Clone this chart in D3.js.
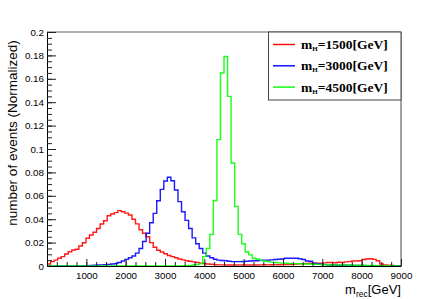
<!DOCTYPE html>
<html>
<head>
<meta charset="utf-8">
<script src="https://cdn.jsdelivr.net/npm/d3@7"></script>
<style>
  body { margin: 0; background: #fff; }
  svg { display: block; }
</style>
</head>
<body>
<svg id="chart" width="448" height="299"></svg>
<script>
// histogram binning: 100 bins of 90 GeV from 0 to 9000
const binWidth = 90;
const nBins = 100;

// normalized bin contents
const red = [
  0.0017, 0.0037, 0.0050, 0.0066, 0.0080, 0.0103, 0.0122, 0.0137, 0.0143, 0.0171,
  0.0199, 0.0237, 0.0265, 0.0288, 0.0320, 0.0359, 0.0387, 0.0430, 0.0444, 0.0456,
  0.0473, 0.0464, 0.0452, 0.0436, 0.0400, 0.0360, 0.0310, 0.0280, 0.0250, 0.0200,
  0.0160, 0.0135, 0.0120, 0.0105, 0.0090, 0.0080, 0.0070, 0.0060, 0.0052, 0.0045,
  0.0040, 0.0035, 0.0030, 0.0025, 0.0020, 0.0017, 0.0015, 0.0012, 0.0010, 0.0010,
  0.0009, 0.0008, 0.0008, 0.0009, 0.0010, 0.0009, 0.0008, 0.0009, 0.0010, 0.0009,
  0.0010, 0.0011, 0.0010, 0.0011, 0.0012, 0.0011, 0.0012, 0.0012, 0.0013, 0.0015,
  0.0017, 0.0018, 0.0020, 0.0022, 0.0023, 0.0025, 0.0025, 0.0023, 0.0027, 0.0030,
  0.0030, 0.0028, 0.0032, 0.0030, 0.0035, 0.0037, 0.0043, 0.0043, 0.0045, 0.0055,
  0.0060, 0.0062, 0.0057, 0.0045, 0.0017, 0.0008, 0.0006, 0.0004, 0.0003, 0.0002
];
const blue = [
  0, 0, 0, 0, 0, 0, 0, 0, 0, 0,
  0.0002, 0.0003, 0.0005, 0.0006, 0.0008, 0.0010, 0.0012, 0.0014, 0.0017, 0.0020,
  0.0030, 0.0043, 0.0057, 0.0070, 0.0085, 0.0110, 0.0150, 0.0210, 0.0280, 0.0370,
  0.0450, 0.0558, 0.0655, 0.0726, 0.0758, 0.0729, 0.0650, 0.0550, 0.0464, 0.0390,
  0.0320, 0.0240, 0.0190, 0.0150, 0.0110, 0.0085, 0.0070, 0.0058, 0.0050, 0.0047,
  0.0045, 0.0040, 0.0037, 0.0037, 0.0037, 0.0038, 0.0040, 0.0043, 0.0045, 0.0045,
  0.0048, 0.0050, 0.0050, 0.0052, 0.0055, 0.0058, 0.0060, 0.0066, 0.0066, 0.0066,
  0.0066, 0.0062, 0.0055, 0.0043, 0.0040, 0.0025, 0.0018, 0.0015, 0.0012, 0.0010,
  0.0009, 0.0008, 0.0007, 0.0007, 0.0006, 0.0006, 0.0005, 0.0005, 0.0004, 0.0004,
  0.0003, 0.0002, 0.0002, 0.0002, 0.0001, 0.0001, 0.0001, 0, 0, 0
];
const green = [
  0, 0, 0, 0, 0, 0, 0, 0, 0, 0,
  0, 0, 0, 0, 0, 0, 0, 0, 0, 0,
  0, 0, 0, 0, 0, 0, 0, 0, 0, 0,
  0, 0, 0, 0, 0, 0, 0, 0, 0.0002, 0.0003,
  0.0005, 0.0008, 0.0012, 0.0020, 0.0080, 0.0150, 0.0270, 0.0560, 0.1080, 0.1650,
  0.1790, 0.1450, 0.0880, 0.0510, 0.0270, 0.0190, 0.0120, 0.0095, 0.0066, 0.0060,
  0.0050, 0.0042, 0.0037, 0.0033, 0.0030, 0.0027, 0.0025, 0.0023, 0.0022, 0.0020,
  0.0020, 0.0019, 0.0018, 0.0017, 0.0016, 0.0015, 0.0014, 0.0013, 0.0012, 0.0011,
  0.0010, 0.0009, 0.0009, 0.0008, 0.0008, 0.0007, 0.0007, 0.0006, 0.0006, 0.0005,
  0.0005, 0.0004, 0.0004, 0.0003, 0.0003, 0.0002, 0.0002, 0.0001, 0.0001, 0.0001
];

const masses = ['1500', '3000', '4500'];
const colors = ['#ff0000', '#0000ff', '#00ff00'];
const series = [red, blue, green];

const xMajor = [1000, 2000, 3000, 4000, 5000, 6000, 7000, 8000, 9000];
const yMajor = [0, 0.02, 0.04, 0.06, 0.08, 0.1, 0.12, 0.14, 0.16, 0.18, 0.2];

const svg = d3.select('#chart');
const x0 = 47, x1 = 401, y0 = 266, y1 = 32;

const x = d3.scaleLinear().domain([0, nBins * binWidth]).range([x0, x1]);
const y = d3.scaleLinear().domain([0, 0.2]).range([y0, y1]);

svg.append('clipPath').attr('id', 'plotclip')
  .append('rect').attr('x', x0).attr('y', y1 - 2).attr('width', x1 - x0).attr('height', y0 - y1 + 4);

// histograms as step outlines
const step = d3.line().x(d => x(d[0])).y(d => y(d[1])).curve(d3.curveStepAfter);
const hists = svg.append('g').attr('clip-path', 'url(#plotclip)');
series.forEach((vals, i) => {
  const pts = vals.map((v, k) => [k * binWidth, v]);
  pts.push([nBins * binWidth, vals[vals.length - 1]]);
  hists.append('path')
    .attr('d', step(pts))
    .attr('fill', 'none')
    .attr('stroke', colors[i])
    .attr('stroke-width', 1.4)
    .attr('stroke-opacity', 0.9);
});

// frame
svg.append('line').attr('x1', x0).attr('x2', x1).attr('y1', y1).attr('y2', y1)
  .attr('stroke', '#999').attr('stroke-width', 1.5);
svg.append('line').attr('x1', x1).attr('x2', x1).attr('y1', y1).attr('y2', y0)
  .attr('stroke', '#444').attr('stroke-width', 1);

// y axis
svg.append('g').attr('transform', `translate(${x0},0)`)
  .call(d3.axisLeft(y).tickValues(yMajor).tickSize(-9).tickSizeOuter(0).tickPadding(3)
    .tickFormat(d => d === 0 ? '0' : String(+d.toFixed(2))));
svg.append('g').attr('transform', `translate(${x0},0)`)
  .call(d3.axisLeft(y).tickValues(d3.range(0, 41).map(i => i * 0.005)).tickSize(-5).tickFormat(''))
  .call(g => g.select('.domain').remove());

// x axis
svg.append('g').attr('transform', `translate(0,${y0})`)
  .call(d3.axisBottom(x).tickValues(xMajor).tickSize(-7).tickSizeOuter(0).tickPadding(6)
    .tickFormat(d3.format('d')));
svg.append('g').attr('transform', `translate(0,${y0})`)
  .call(d3.axisBottom(x).tickValues(d3.range(1, 36).map(i => i * 250)).tickSize(-4).tickFormat(''))
  .call(g => g.select('.domain').remove());

svg.selectAll('.tick text')
  .attr('font-family', '"Liberation Sans", Arial, sans-serif')
  .attr('font-size', 9.8)
  .attr('fill', '#000');
svg.selectAll('.tick line').attr('stroke', '#222');
svg.selectAll('.domain').attr('stroke', '#000');

// axis titles
svg.append('text')
  .attr('transform', 'translate(17,133) rotate(-90)')
  .attr('text-anchor', 'middle')
  .attr('font-family', '"Liberation Sans", Arial, sans-serif')
  .attr('font-size', 13.5)
  .text('number of events (Normalized)');

const xt = svg.append('text')
  .attr('x', x1).attr('y', 294)
  .attr('text-anchor', 'end')
  .attr('font-family', '"Liberation Sans", Arial, sans-serif')
  .attr('font-size', 13);
xt.append('tspan').text('m');
xt.append('tspan').attr('font-size', 8.5).attr('dy', 3).text('rec');
xt.append('tspan').attr('dy', -3).text('[GeV]');

// legend
const lg = svg.append('g');
lg.append('rect')
  .attr('x', 268.5).attr('y', 32).attr('width', x1 - 268.5).attr('height', 68)
  .attr('fill', '#fff').attr('stroke', '#444').attr('stroke-width', 1);
masses.forEach((m, i) => {
  const yy = 44.5 + i * 21.3;
  lg.append('line').attr('x1', 273).attr('x2', 295).attr('y1', yy).attr('y2', yy)
    .attr('stroke', colors[i]).attr('stroke-width', 1.4);
  const t = lg.append('text')
    .attr('x', 301).attr('y', yy + 4.5)
    .attr('font-family', '"Liberation Serif", "Times New Roman", serif')
    .attr('font-weight', 'bold')
    .attr('font-size', 13.5);
  t.append('tspan').text('m');
  t.append('tspan').attr('font-size', 7).attr('dy', 2).text('H');
  t.append('tspan').attr('dy', -2).text(`=${m}[GeV]`);
});
</script>
</body>
</html>
